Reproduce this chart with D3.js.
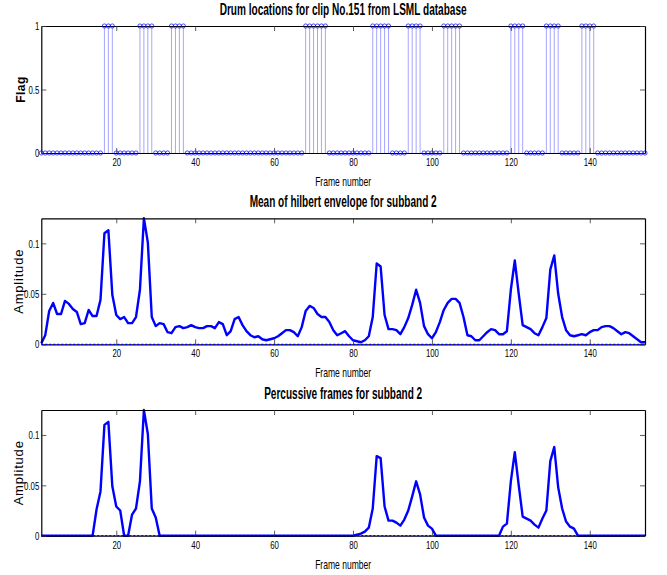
<!DOCTYPE html>
<html>
<head>
<meta charset="utf-8">
<script src="https://cdn.jsdelivr.net/npm/d3@7"></script>
<style>
  body { margin: 0; background: #fff; }
  text { font-family: "Liberation Sans", Arial, sans-serif; }
</style>
</head>
<body>
<svg id="chart" width="667" height="575"></svg>
<script>
// drum flag per frame (frames 1..154)
var flags = [
	0,0,0,0,0,0,0,0,0,0,0,0,0,0,0,0,1,1,1,0,0,0,
	0,0,0,1,1,1,1,0,0,0,0,1,1,1,1,0,0,0,0,0,0,0,
	0,0,0,0,0,0,0,0,0,0,0,0,0,0,0,0,0,0,0,0,0,0,
	0,1,1,1,1,1,1,0,0,0,0,0,0,0,0,0,0,0,1,1,1,1,
	1,0,0,0,0,1,1,1,1,0,0,0,0,0,1,1,1,1,1,0,0,0,
	0,0,0,0,0,0,0,0,0,1,1,1,1,0,0,0,0,0,1,1,1,1,
	0,0,0,0,0,1,1,1,1,0,0,0,0,0,0,0,0,0,0,0,0,0
];

// mean of hilbert envelope, subband 2
var envelope = [
	0.001,0.009,0.033,0.041,0.030,0.030,0.043,0.040,0.035,0.032,
	0.020,0.021,0.034,0.028,0.028,0.044,0.110,0.113,0.049,0.029,
	0.025,0.027,0.021,0.021,0.027,0.054,0.1248,0.101,0.027,0.018,
	0.021,0.020,0.012,0.011,0.017,0.018,0.016,0.017,0.019,0.017,
	0.016,0.016,0.018,0.018,0.016,0.022,0.020,0.009,0.013,0.025,
	0.027,0.019,0.013,0.009,0.007,0.008,0.005,0.004,0.005,0.006,
	0.008,0.011,0.014,0.014,0.012,0.008,0.017,0.033,0.038,0.036,
	0.030,0.027,0.027,0.022,0.014,0.009,0.011,0.013,0.008,0.004,
	0.003,0.002,0.004,0.008,0.027,0.080,0.077,0.029,0.015,0.015,
	0.014,0.010,0.017,0.026,0.039,0.054,0.041,0.018,0.010,0.006,
	0.012,0.022,0.034,0.041,0.045,0.045,0.041,0.027,0.009,0.008,
	0.004,0.004,0.008,0.012,0.015,0.014,0.010,0.010,0.013,0.054,
	0.083,0.050,0.019,0.017,0.015,0.011,0.009,0.017,0.026,0.074,
	0.088,0.050,0.027,0.014,0.009,0.008,0.009,0.010,0.009,0.012,
	0.014,0.014,0.017,0.018,0.018,0.016,0.013,0.010,0.012,0.011,
	0.008,0.005,0.002,0.002
];

// percussive frames, subband 2
var percussive = [
	0,0,0,0,0,0,0,0,0,0,
	0,0,0,0,0.026,0.044,0.110,0.113,0.049,0.029,
	0.025,0,0,0.021,0.027,0.054,0.1248,0.101,0.027,0.018,
	0,0,0,0,0,0,0,0,0,0,
	0,0,0,0,0,0,0,0,0,0,
	0,0,0,0,0,0,0,0,0,0,
	0,0,0,0,0,0,0,0,0,0,
	0,0,0,0,0,0,0,0,0,0,
	0.001,0.002,0.004,0.008,0.027,0.079,0.077,0.029,0.015,0.015,
	0.013,0.010,0.016,0.025,0.039,0.054,0.041,0.018,0.010,0.007,
	0,0,0,0,0,0,0,0,0,0,
	0,0,0,0,0,0,0,0.009,0.012,0.054,
	0.083,0.050,0.019,0.017,0.015,0.011,0.008,0.017,0.025,0.074,
	0.088,0.048,0.027,0.014,0.009,0.007,0,0,0,0,
	0,0,0,0,0,0,0,0,0,0,
	0,0,0,0
];

var xTicks = [20, 40, 60, 80, 100, 120, 140];
var flagTicks = [0, 0.5, 1];
var ampTicks = [0, 0.05, 0.1];
var titles = ["Drum locations for clip No.151 from LSML database",
	"Mean of hilbert envelope for subband 2",
	"Percussive frames for subband 2"];
var titleWidths = [247, 187, 158];

var svg = d3.select("#chart"),
	margin = {left: 41.3, right: 22};
var width = +svg.attr("width") - margin.right;

var x = d3.scaleLinear()
	.domain([1, flags.length])
	.range([margin.left, width]);

// squeeze text horizontally to mimic the condensed font of the original
function squeeze(sel, f) {
	sel.each(function() {
		var w = this.getComputedTextLength();
		d3.select(this).attr("textLength", w * f).attr("lengthAdjust", "spacingAndGlyphs");
	});
}

var panels = [
	{top: 26, bottom: 153, ymax: 1, ticks: flagTicks, ylabel: "Flag", data: flags, kind: "stem"},
	{top: 218.3, bottom: 344.3, ymax: d3.max(envelope), ticks: ampTicks, ylabel: "Amplitude", data: envelope, kind: "line"},
	{top: 410, bottom: 535.7, ymax: d3.max(percussive), ticks: ampTicks, ylabel: "Amplitude", data: percussive, kind: "line"}
];

panels.forEach(function(p, i) {
	var y = d3.scaleLinear()
		.domain([0, p.ymax])
		.range([p.bottom, p.top]);

	var g = svg.append("g").attr("class", "panel");

	if (p.kind === "stem") {
		g.selectAll(".stem")
			.data(p.data)
			.enter().append("line")
			.attr("class", "stem")
			.attr("x1", (d, j) => x(j + 1))
			.attr("x2", (d, j) => x(j + 1))
			.attr("y1", y(0))
			.attr("y2", d => y(d))
			.attr("stroke", "#3333ff")
			.attr("stroke-opacity", 0.55)
			.attr("stroke-width", 0.8);
	} else {
		var line = d3.line()
			.x((d, j) => x(j + 1))
			.y(d => y(d));
		g.append("path")
			.datum(p.data)
			.attr("d", line)
			.attr("fill", "none")
			.attr("stroke", "#0000ff")
			.attr("stroke-width", 2.4)
			.attr("stroke-linejoin", "round");
	}

	// axes box drawn with d3 axes, ticks pointing inwards
	g.append("g")
		.attr("class", "xb")
		.attr("transform", `translate(0,${p.bottom})`)
		.call(d3.axisBottom(x).tickValues(xTicks).tickSize(-5).tickSizeOuter(0).tickPadding(6))
		.call(a => a.selectAll("text").style("font-size", "11.5px").attr("dy", "0.6em"));
	g.append("g")
		.attr("transform", `translate(0,${p.top})`)
		.call(d3.axisTop(x).tickValues(xTicks).tickSize(-5).tickSizeOuter(0).tickFormat(""));
	g.append("g")
		.attr("class", "yl")
		.attr("transform", `translate(${margin.left},0)`)
		.call(d3.axisLeft(y).tickValues(p.ticks).tickSize(-5).tickSizeOuter(0).tickPadding(2).tickFormat(d3.format("")))
		.call(a => a.selectAll("text").style("font-size", "11.5px"));
	g.append("g")
		.attr("transform", `translate(${width},0)`)
		.call(d3.axisRight(y).tickValues(p.ticks).tickSize(-5).tickSizeOuter(0).tickFormat(""));

	g.selectAll(".domain").attr("stroke", "#000").attr("stroke-width", 1.2);
	g.selectAll(".tick line").attr("stroke", "#333").attr("stroke-width", 0.8);
	squeeze(g.selectAll(".xb text, .yl text"), 0.68);

	if (p.kind === "stem") {
		g.selectAll(".mark")
			.data(p.data)
			.enter().append("circle")
			.attr("class", "mark")
			.attr("cx", (d, j) => x(j + 1))
			.attr("cy", d => y(d))
			.attr("r", 2.1)
			.attr("fill", "none")
			.attr("stroke", "#0000ff")
			.attr("stroke-width", 0.7);
	} else {
		// trace drawn through the baseline like the original
		g.append("line")
			.attr("x1", margin.left).attr("x2", width)
			.attr("y1", p.bottom).attr("y2", p.bottom)
			.attr("stroke", "#0000ff").attr("stroke-width", 1.2)
			.attr("stroke-dasharray", "2,2");
	}

	svg.append("text")
		.attr("x", (margin.left + width) / 2)
		.attr("y", p.top - 11.5)
		.attr("text-anchor", "middle")
		.attr("textLength", titleWidths[i])
		.attr("lengthAdjust", "spacingAndGlyphs")
		.style("font-size", "16px")
		.style("font-weight", "bold")
		.text(titles[i]);

	svg.append("text")
		.attr("x", (margin.left + width) / 2)
		.attr("y", p.bottom + 33)
		.attr("text-anchor", "middle")
		.attr("textLength", 56)
		.attr("lengthAdjust", "spacingAndGlyphs")
		.style("font-size", "13.5px")
		.text("Frame number");

	var lx = p.kind === "stem" ? 21 : 18;
	svg.append("text")
		.attr("transform", `translate(${lx},${(p.top + p.bottom) / 2}) rotate(-90)`)
		.attr("text-anchor", "middle")
		.attr("dy", "0.35em")
		.style("font-size", p.kind === "stem" ? "12px" : "13px")
		.style("font-weight", p.kind === "stem" ? "bold" : "normal")
		.style("letter-spacing", p.kind === "stem" ? "0.5px" : "0.8px")
		.text(p.ylabel);
});
</script>
</body>
</html>
